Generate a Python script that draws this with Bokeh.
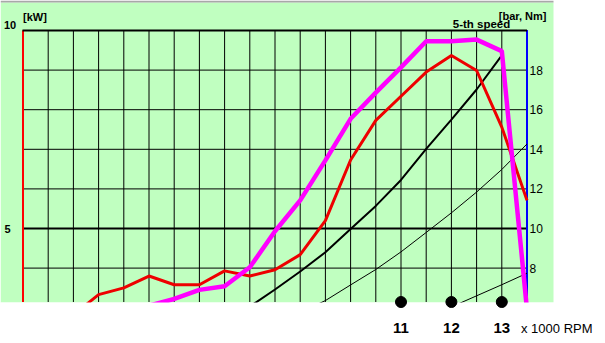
import numpy as np
from bokeh.plotting import figure
from bokeh.models import Range1d
from bokeh.core.properties import value
from bokeh.embed import file_html
from bokeh.resources import INLINE

# ---------------- data ----------------
# x values in 1000 RPM
rpm_red = [4.5, 5.0, 5.5, 6.0, 6.5, 7.0, 7.5, 8.0, 8.5, 9.0, 9.5, 10.0,
           10.5, 11.0, 11.5, 12.0, 12.5, 13.0, 13.5]
power_red_kw = [2.82, 3.33, 3.50, 3.80, 3.58, 3.58, 3.93, 3.80, 3.96, 4.34, 5.20, 6.73,
                7.73, 8.34, 8.95, 9.37, 8.99, 7.56, 5.71]

rpm_magenta = [6.0, 6.5, 7.0, 7.5, 8.0, 8.5, 9.0, 9.5, 10.0, 10.5, 11.0, 11.5,
               12.0, 12.5, 13.0, 13.5]
power_magenta_kw = [3.05, 3.22, 3.45, 3.54, 4.02, 4.93, 5.71, 6.72, 7.77, 8.43, 9.07, 9.73,
                    9.73, 9.77, 9.48, 2.95]

# right axis [bar, Nm]
rpm_black = [8.0, 8.5, 9.0, 9.5, 10.0, 10.5, 11.0, 11.5, 12.0, 12.5, 13.0]
black_bar = [6.06, 6.92, 7.83, 8.80, 9.98, 11.14, 12.45, 14.02, 15.50, 17.02, 18.74]

rpm_thin1 = [9.0, 9.5, 10.0, 10.5, 11.0, 11.5, 12.0, 12.5, 13.0, 13.5]
thin1_bar = [5.76, 6.36, 7.15, 7.93, 8.82, 9.80, 10.79, 11.84, 12.98, 14.27]

rpm_thin2 = [12.0, 12.5, 13.0, 13.5]
thin2_bar = [6.04, 6.60, 7.16, 7.74]

left_tick_values = [10, 5]
left_tick_labels = ["10", "5"]
right_tick_values = [8, 10, 12, 14, 16, 18]
right_tick_labels = ["8", "10", "12", "14", "16", "18"]
rpm_marks = [11, 12, 13]
rpm_mark_labels = ["11", "12", "13"]

left_unit = "[kW]"
right_unit = "[bar, Nm]"
title_text = "5-th speed"
x_unit = "x 1000 RPM"

RPM_MIN, RPM_MAX = 3.5, 13.5
KW_TOP = 10

# ---------------- geometry (pixels) ----------------
W, H = 605, 343
X0_PX, PX_PER_K = 22.5, 50.4
Y10_PX, PX_PER_KW = 30.0, 39.6


def xd(px):
    return RPM_MIN + (px - X0_PX) / PX_PER_K


def yd(py):
    return KW_TOP - (py - Y10_PX) / PX_PER_KW


p = figure(width=W, height=H, output_backend="svg", toolbar_location=None,
           x_range=Range1d(xd(0), xd(W)), y_range=Range1d(yd(H), yd(0)),
           x_axis_location=None, y_axis_location=None, min_border=0)
p.extra_y_ranges = {"right": Range1d(2 * yd(H), 2 * yd(0))}
p.outline_line_color = None
p.background_fill_color = "white"
p.border_fill_color = "white"
p.grid.visible = False

FONT = value("Liberation Sans")
GREEN = "#c0ffc0"

# background panel
p.quad(left=xd(0), right=xd(553), top=yd(2), bottom=yd(302), fill_color=GREEN, line_color=None)
p.quad(left=xd(0), right=xd(553), top=yd(0), bottom=yd(2), fill_color="#a8a8a8", line_color=None)

y_bottom = yd(301.5)
xs = np.arange(RPM_MIN, RPM_MAX + 0.01, 0.5)
p.segment(x0=xs, y0=y_bottom, x1=xs, y1=KW_TOP, line_color="black", line_width=1)
thin_h = [9, 8, 7, 6, 4]
p.segment(x0=RPM_MIN, y0=thin_h, x1=RPM_MAX, y1=thin_h, line_color="black", line_width=1)
p.segment(x0=RPM_MIN, y0=[5], x1=RPM_MAX, y1=[5], line_color="black", line_width=2)

p.segment(x0=[RPM_MIN], y0=y_bottom, x1=[RPM_MIN], y1=KW_TOP, line_color="#ff0000", line_width=2)
p.segment(x0=[RPM_MAX], y0=y_bottom, x1=[RPM_MAX], y1=KW_TOP + 0.5 / PX_PER_KW,
          line_color="#0000ff", line_width=2)
p.segment(x0=[RPM_MIN - 0.5 / PX_PER_K], y0=KW_TOP, x1=[RPM_MAX], y1=KW_TOP,
          line_color="black", line_width=2)

# curves
p.line(rpm_thin2, thin2_bar, y_range_name="right", line_color="black", line_width=1)
p.line(rpm_thin1, thin1_bar, y_range_name="right", line_color="black", line_width=1)
p.line(rpm_black, black_bar, y_range_name="right", line_color="black", line_width=2)
p.line(rpm_red, power_red_kw, line_color="#ee0000", line_width=3)
p.line(rpm_magenta, power_magenta_kw, line_color="#ff00ff", line_width=4.5)

# white area below the panel
p.quad(left=xd(0), right=xd(W), top=yd(302), bottom=yd(H), fill_color="white", line_color=None)

# rpm marks
p.scatter(x=rpm_marks, y=[y_bottom] * len(rpm_marks), size=11, color="black")

# texts
p.text(x=[xd(9.5)], y=[yd(24.5)], text=[left_tick_labels[0]], text_font=FONT,
       text_font_size="11px", text_font_style="bold", text_align="center",
       text_baseline="middle", text_color="black")
p.text(x=[xd(7)], y=[left_tick_values[1]], text=[left_tick_labels[1]], text_font=FONT,
       text_font_size="11px", text_font_style="bold", text_align="center",
       text_baseline="middle", text_color="black")
p.text(x=[xd(22.5)], y=[yd(16)], text=[left_unit], text_font=FONT,
       text_font_size="11px", text_font_style="bold", text_align="left",
       text_baseline="middle", text_color="black")
p.text(x=[xd(546)], y=[yd(15)], text=[right_unit], text_font=FONT,
       text_font_size="11px", text_font_style="bold", text_align="right",
       text_baseline="middle", text_color="black")
p.text(x=[xd(481)], y=[yd(23.5)], text=[title_text], text_font=FONT,
       text_font_size="11.5px", text_font_style="bold", text_align="center",
       text_baseline="middle", text_color="black")
p.text(x=[xd(529)] * len(right_tick_values), y=right_tick_values, text=right_tick_labels,
       y_range_name="right", text_font=FONT, text_font_size="12px", text_align="left",
       text_baseline="middle", text_color="black")
p.text(x=rpm_marks, y=[yd(327)] * len(rpm_marks), text=rpm_mark_labels, text_font=FONT,
       text_font_size="15px", text_font_style="bold", text_align="center",
       text_baseline="middle", text_color="black")
p.text(x=[xd(520.5)], y=[yd(327.5)], text=[x_unit], text_font=FONT,
       text_font_size="13px", text_align="left", text_baseline="middle", text_color="black")

open("out.html", "w").write(file_html(p, INLINE))
